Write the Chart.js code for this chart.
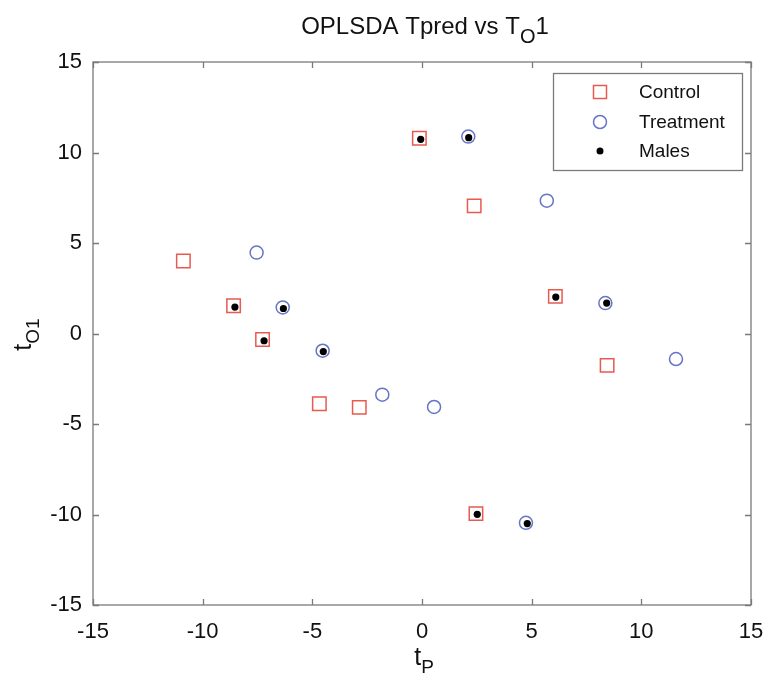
<!DOCTYPE html>
<html><head><meta charset="utf-8">
<script src="https://cdn.jsdelivr.net/npm/chart.js@4.4.0/dist/chart.umd.min.js"></script>
<style>html,body{margin:0;padding:0;background:#fff}</style>
</head><body>
<canvas id="c" width="766" height="677"></canvas>
<script>
// ---- data ----
const tickValues = [-15, -10, -5, 0, 5, 10, 15];
const controlX = [-10.88, -8.59, -7.27, -4.68, -2.86, -0.12, 2.38, 6.08, 8.44, 2.46];
const controlY = [4.01, 1.53, -0.33, -3.88, -4.08, 10.79, 7.05, 2.05, -1.76, -9.95];
const treatX = [-7.54, -6.35, -4.53, -1.81, 0.55, 2.11, 5.69, 8.36, 11.58, 4.74];
const treatY = [4.47, 1.44, -0.95, -3.38, -4.06, 10.88, 7.34, 1.68, -1.41, -10.46];
const malesX = [-8.53, -7.2, -0.06, 6.1, 2.52, -6.32, -4.5, 2.13, 8.42, 4.8];
const malesY = [1.46, -0.4, 10.73, 2.01, -9.99, 1.38, -1.0, 10.82, 1.68, -10.5];
const seriesNames = ['Control', 'Treatment', 'Males'];

const RED = '#e85a50', BLUE = '#6674c6', FRAME = '#7a7a7a';
const FONT = '"Liberation Sans", Arial, Helvetica, sans-serif';
const toPts = (xs, ys) => xs.map((x, i) => ({x, y: ys[i]}));

function drawSub(ctx, parts, x, y, align) {
  let total = 0;
  parts.forEach(p => { ctx.font = p.size + 'px ' + FONT; p.w = ctx.measureText(p.t).width; total += p.w; });
  let cx = align === 'center' ? x - total / 2 : x;
  ctx.textAlign = 'left'; ctx.textBaseline = 'alphabetic';
  parts.forEach(p => { ctx.font = p.size + 'px ' + FONT; ctx.fillText(p.t, cx, y + (p.dy || 0)); cx += p.w; });
}

const decor = {
  id: 'decor',
  beforeDatasetsDraw(chart) {
    const {ctx, chartArea: a, scales} = chart;
    ctx.save();
    ctx.strokeStyle = FRAME; ctx.lineWidth = 1.3;
    ctx.strokeRect(a.left, a.top, a.right - a.left, a.bottom - a.top);
    const tl = 6;
    ctx.beginPath();
    tickValues.forEach(v => {
      const px = Math.round(scales.x.getPixelForValue(v)) + 0.5;
      ctx.moveTo(px, a.bottom); ctx.lineTo(px, a.bottom - tl);
      ctx.moveTo(px, a.top); ctx.lineTo(px, a.top + tl);
      const py = Math.round(scales.y.getPixelForValue(v)) + 0.5;
      ctx.moveTo(a.left, py); ctx.lineTo(a.left + tl, py);
      ctx.moveTo(a.right, py); ctx.lineTo(a.right - tl, py);
    });
    ctx.stroke();
    ctx.restore();
  },
  afterDraw(chart) {
    const {ctx, chartArea: a} = chart;
    ctx.save();
    ctx.fillStyle = '#111';
    drawSub(ctx, [{t: 'OPLSDA Tpred vs T', size: 24}, {t: 'O', size: 20, dy: 9}, {t: '1', size: 24}], (a.left + a.right) / 2 + 3, 34, 'center');
    drawSub(ctx, [{t: 't', size: 25}, {t: 'P', size: 19, dy: 8}], (a.left + a.right) / 2 + 2, 665, 'center');
    ctx.save();
    ctx.translate(31, (a.top + a.bottom) / 2 + 1);
    ctx.rotate(-Math.PI / 2);
    drawSub(ctx, [{t: 't', size: 25}, {t: 'O1', size: 19, dy: 8}], 0, 0, 'center');
    ctx.restore();
    // legend
    const L = 553, T = 73, R = 742, B = 170;
    ctx.fillStyle = '#fff';
    ctx.fillRect(L, T, R - L, B - T);
    ctx.strokeStyle = FRAME; ctx.lineWidth = 1.3;
    ctx.strokeRect(L + 0.5, T + 0.5, R - L, B - T);
    const rows = [92, 122, 151];
    const mx = 600;
    ctx.lineWidth = 1.5;
    ctx.strokeStyle = RED;
    ctx.strokeRect(mx - 6.5, rows[0] - 6.5, 13, 13);
    ctx.strokeStyle = BLUE;
    ctx.beginPath(); ctx.arc(mx, rows[1], 6.5, 0, Math.PI * 2); ctx.stroke();
    ctx.fillStyle = '#000';
    ctx.beginPath(); ctx.arc(mx, rows[2], 3.5, 0, Math.PI * 2); ctx.fill();
    ctx.fillStyle = '#111';
    ctx.font = '19px ' + FONT; ctx.textAlign = 'left'; ctx.textBaseline = 'middle';
    seriesNames.forEach((n, i) => ctx.fillText(n, 639, rows[i] + 1));
    ctx.restore();
  }
};

const noPad = s => { s.paddingLeft = 0; s.paddingRight = 0; s.paddingTop = 0; s.paddingBottom = 0; };

new Chart(document.getElementById('c'), {
  type: 'scatter',
  data: {
    datasets: [
      {label: seriesNames[0], data: toPts(controlX, controlY), pointStyle: 'rect', pointRadius: 9.5, pointHoverRadius: 9.5,
       borderColor: RED, backgroundColor: 'rgba(0,0,0,0)', borderWidth: 1.5, order: 2},
      {label: seriesNames[1], data: toPts(treatX, treatY), pointStyle: 'circle', pointRadius: 6.5, pointHoverRadius: 6.5,
       borderColor: BLUE, backgroundColor: 'rgba(0,0,0,0)', borderWidth: 1.5, order: 1},
      {label: seriesNames[2], data: toPts(malesX, malesY), pointStyle: 'circle', pointRadius: 3.6, pointHoverRadius: 3.6,
       borderColor: '#000', backgroundColor: '#000', borderWidth: 0, order: 0}
    ]
  },
  options: {
    responsive: false, animation: false, devicePixelRatio: 1,
    layout: {padding: {left: 0, top: 62, right: 15, bottom: 0}},
    plugins: {legend: {display: false}, tooltip: {enabled: false}, title: {display: false}},
    scales: {
      x: {
        type: 'linear', min: -15, max: 15,
        afterFit: s => { s.height = 72; noPad(s); },
        afterBuildTicks: s => { s.ticks = tickValues.map(v => ({value: v})); },
        grid: {display: false}, border: {display: false},
        ticks: {color: '#111', font: {size: 22, family: FONT}, padding: 6, maxRotation: 0}
      },
      y: {
        type: 'linear', min: -15, max: 15,
        afterFit: s => { s.width = 93; noPad(s); },
        afterBuildTicks: s => { s.ticks = tickValues.map(v => ({value: v})); },
        grid: {display: false}, border: {display: false},
        ticks: {color: '#111', font: {size: 22, family: FONT}, padding: 3}
      }
    }
  },
  plugins: [decor]
});
</script>
</body></html>
